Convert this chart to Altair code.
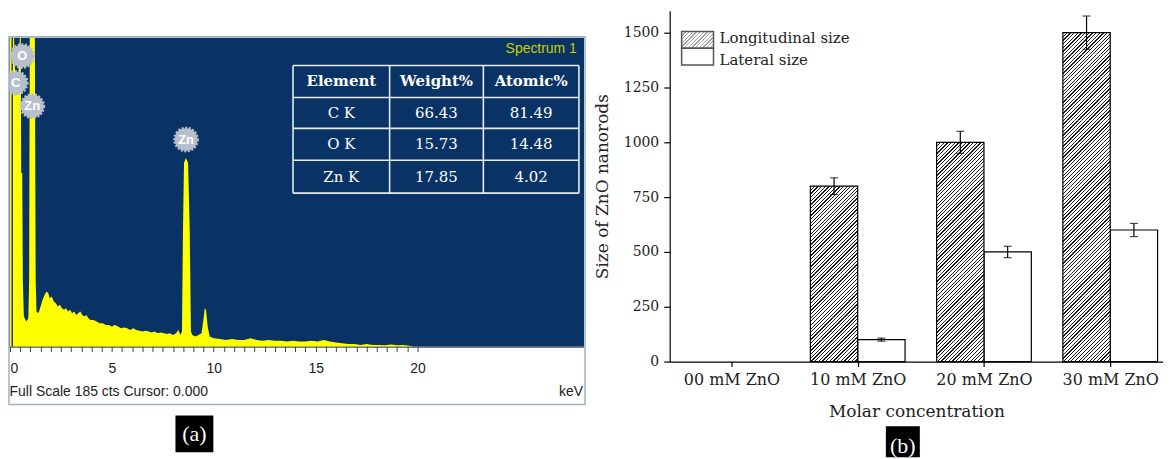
import json
import altair as alt
import pandas as pd

# ---------------- data: panel (a) EDS spectrum ----------------
SPEC_KEV = [0.00, 0.20, 0.26, 0.34, 0.42, 0.48, 0.53, 0.55, 0.60, 0.63, 0.68, 0.80, 0.90, 0.94, 0.97,
            1.22, 1.26, 1.30, 1.40, 1.50, 1.60, 1.70, 1.80, 1.88, 1.95, 2.05, 2.15, 2.25, 2.35, 2.45,
            2.55, 2.65, 2.75, 2.85, 2.95, 3.05, 3.15, 3.25, 3.35, 3.45, 3.55, 3.65, 3.75, 3.85, 3.95,
            4.10, 4.25, 4.40, 4.55, 4.70, 4.85, 5.00, 5.15, 5.30, 5.45, 5.60, 5.75, 5.90, 6.05, 6.20,
            6.35, 6.50, 6.65, 6.80, 6.95, 7.10, 7.25, 7.40, 7.55, 7.70, 7.85, 8.00, 8.15, 8.26, 8.36,
            8.44, 8.49, 8.54, 8.63, 8.74, 8.82, 8.88, 8.95, 9.10, 9.25, 9.40, 9.48, 9.56, 9.62, 9.70,
            9.80, 10.0, 10.3, 10.6, 10.9, 11.2, 11.5, 11.8, 12.1, 12.4, 12.7, 13.0, 13.3, 13.6, 13.9,
            14.2, 14.5, 14.8, 15.1, 15.4, 15.7, 16.0, 16.3, 16.6, 16.9, 17.2, 17.5, 17.8, 18.1, 18.4,
            18.7, 19.0, 19.3, 19.6, 19.8]
SPEC_CTS = [185, 185, 160, 150, 165, 185, 185, 104, 104, 40, 18, 15, 17, 40, 185,
            185, 40, 21, 20, 24, 28, 31, 33, 32, 29, 30, 27, 26, 24, 25,
            23, 22, 23, 21, 22, 20, 21, 19, 20, 21, 19, 18, 19, 17, 16,
            16, 15, 14, 14, 13, 13, 12, 13, 12, 11, 11.5, 11, 10, 11, 10,
            9.5, 9, 9.5, 9, 8.5, 9, 8, 8.5, 8, 7.5, 8, 7, 8, 10, 7,
            9, 70, 110, 113, 110, 70, 9, 7, 6, 7, 8, 15, 23, 22, 12,
            6, 5, 4.5, 4, 4.5, 4, 4, 5, 4, 3.5, 4, 3.5, 3.5, 3, 3.5,
            3, 3, 3.5, 3, 4, 3, 2.5, 2, 1.5, 1.5, 1, 1.5, 1, 1, 0.8,
            1.2, 0.8, 1, 0.5, 0]
FULL_SCALE = 185
CURSOR_KEV = 0.11
BADGE_LABELS = ["C", "O", "Zn", "Zn"]
BADGE_KEV = [0.28, 0.60, 1.09, 8.64]
BADGE_CTS = [158, 174, 144, 124]
TABLE_HEADER = ["Element", "Weight%", "Atomic%"]
TABLE_ELEMENT = ["C K", "O K", "Zn K"]
TABLE_WEIGHT = ["66.43", "15.73", "17.85"]
TABLE_ATOMIC = ["81.49", "14.48", "4.02"]

# ---------------- data: panel (b) nanorod sizes ----------------
CONC = ["00 mM ZnO", "10 mM ZnO", "20 mM ZnO", "30 mM ZnO"]
LONG = [0, 800, 1000, 1500]
LONG_ERR = [0, 38, 50, 76]
LAT = [0, 100, 500, 600]
LAT_ERR = [0, 7, 26, 30]
SERIES = ["Longitudinal size", "Lateral size"]
Y_TICKS = [0, 250, 500, 750, 1000, 1250, 1500]

# ---------------- layout / style ----------------
WA, HA = 577, 337
WB, HB = 495, 352
BLUE = "#0a3365"
YELLOW = "#ffff00"
SERIF = "DejaVu Serif"
SANS = "Liberation Sans"

XA = alt.Scale(domain=[-0.049, 28.17], nice=False, zero=False)
YA = alt.Scale(domain=[0, 201.11], nice=False, zero=False)
XB_DOM = [-0.489, 3.418]
XB = alt.Scale(domain=XB_DOM, nice=False, zero=False)
YB = alt.Scale(domain=[0, 1600], nice=False, zero=False)
HALF = 0.375      # bar width in category units
SEG = 100         # hatch tile height in data units

AX_A = alt.Axis(values=[i * 0.5 for i in range(41)],
                labelExpr="datum.value % 5 === 0 ? format(datum.value, 'd') : ''",
                labelAlign={"condition": {"test": "datum.value === 0", "value": "left"}, "value": "center"},
                title=None, grid=False, domain=True, domainColor="#222", domainWidth=1,
                ticks=True, tickColor="#444", tickSize=5, tickWidth=1,
                labelFont=SANS, labelFontSize=14, labelColor="#222", labelPadding=10,
                labelOverlap=False, labelFlush=False)
AX_BX = alt.Axis(values=[0, 1, 2, 3], labelExpr=json.dumps(CONC) + "[datum.value]",
                 title="Molar concentration", grid=False, domainColor="black", domainWidth=1.2,
                 tickColor="black", tickSize=5, tickWidth=1.2, labelFont=SERIF, labelFontSize=16,
                 labelColor="#222", labelPadding=5, labelOverlap=False,
                 titleFont=SERIF, titleFontSize=17, titleFontWeight="normal", titleColor="#222",
                 titlePadding=16)
AX_BY = alt.Axis(values=Y_TICKS, format="d", title="Size of ZnO nanorods", grid=False, domainColor="black",
                 domainWidth=1.2, tickColor="black", tickSize=6, tickWidth=1.2, labelFont=SERIF,
                 labelFontSize=14, labelColor="#222", labelPadding=5,
                 titleFont=SERIF, titleFontSize=17, titleFontWeight="normal", titleColor="#222",
                 titlePadding=12)


def xa(f):
    return alt.X(f, type="quantitative", scale=XA, axis=AX_A)


def ya(f):
    return alt.Y(f, type="quantitative", scale=YA, axis=None)


def xb(f):
    return alt.X(f, type="quantitative", scale=XB, axis=AX_BX)


def yb(f):
    return alt.Y(f, type="quantitative", scale=YB, axis=AX_BY)


def hatch(w, h, period, dark, ink="#1a1a1a", paper="white"):
    span = w + h
    a = span / (w * w + h * h)
    stops = []
    k = 0
    while k * period < span:
        s = k * period / span
        e = min((k * period + dark) / span, 1.0)
        stops += [alt.GradientStop(offset=s, color=paper), alt.GradientStop(offset=s, color=ink),
                  alt.GradientStop(offset=e, color=ink), alt.GradientStop(offset=e, color=paper)]
        k += 1
    stops.append(alt.GradientStop(offset=1, color=paper))
    return alt.LinearGradient(gradient="linear", stops=stops, x1=0, y1=0, x2=a * w, y2=a * h)


# ================= panel (a) =================
blue = alt.Chart(pd.DataFrame({"x0": [-0.049], "x1": [28.17], "y0": [0], "y1": [FULL_SCALE]})).mark_rect(
    color=BLUE).encode(x=xa("x0"), x2="x1", y=ya("y0"), y2="y1")

spectrum = alt.Chart(pd.DataFrame({"kev": SPEC_KEV, "cts": SPEC_CTS})).mark_area(
    color=YELLOW, opacity=1, interpolate="linear").encode(x=xa("kev"), y=ya("cts"))

cursor = alt.Chart(pd.DataFrame({"kev": [CURSOR_KEV], "y0": [0], "y1": [FULL_SCALE]})).mark_rule(
    color="#33331a", strokeWidth=1.5).encode(x=xa("kev"), y=ya("y0"), y2="y1")

badge_df = pd.DataFrame({"kev": BADGE_KEV, "cts": BADGE_CTS, "lab": BADGE_LABELS})
badges = alt.Chart(badge_df).mark_point(shape="circle", filled=True, size=520, fill="#b7bfcc",
                                        stroke="#b7bfcc", strokeWidth=3, strokeDash=[2, 1.5],
                                        opacity=1, clip=True).encode(x=xa("kev"), y=ya("cts"))
badge_txt = alt.Chart(badge_df).mark_text(color="white", font=SANS, fontSize=13, fontWeight="bold",
                                          clip=True).encode(x=xa("kev"), y=ya("cts"), text="lab")

spectrum_title = alt.Chart(pd.DataFrame({"kev": [27.82], "cts": [178.4], "t": ["Spectrum 1"]})).mark_text(
    align="right", baseline="middle", color="#c8d000", font=SANS, fontSize=14).encode(
    x=xa("kev"), y=ya("cts"), text="t")

COL_EDGES = [13.89, 18.63, 23.23, 27.92]
ROW_EDGES = [168.3, 149.2, 130.7, 111.6, 91.9]
hlines = alt.Chart(pd.DataFrame({"y": ROW_EDGES, "x0": COL_EDGES[0], "x1": COL_EDGES[-1]})).mark_rule(
    color="#e6eaf1", strokeWidth=1.6).encode(x=xa("x0"), x2="x1", y=ya("y"))
vlines = alt.Chart(pd.DataFrame({"x": COL_EDGES, "y0": ROW_EDGES[-1], "y1": ROW_EDGES[0]})).mark_rule(
    color="#e6eaf1", strokeWidth=1.6).encode(x=xa("x"), y=ya("y0"), y2="y1")

col_mid = [(COL_EDGES[i] + COL_EDGES[i + 1]) / 2 for i in range(3)]
row_mid = [(ROW_EDGES[i] + ROW_EDGES[i + 1]) / 2 for i in range(4)]
head_df = pd.DataFrame({"x": col_mid, "y": row_mid[0], "t": TABLE_HEADER})
body_rows = []
for r in range(3):
    for c, val in enumerate([TABLE_ELEMENT[r], TABLE_WEIGHT[r], TABLE_ATOMIC[r]]):
        body_rows.append({"x": col_mid[c], "y": row_mid[r + 1], "t": val})
body_df = pd.DataFrame(body_rows)
head_txt = alt.Chart(head_df).mark_text(color="white", font=SERIF, fontSize=15, fontWeight="bold",
                                        baseline="middle").encode(x=xa("x"), y=ya("y"), text="t")
body_txt = alt.Chart(body_df).mark_text(color="white", font=SERIF, fontSize=15,
                                        baseline="middle").encode(x=xa("x"), y=ya("y"), text="t")

border = alt.Chart(pd.DataFrame({"x0": [-0.049], "x1": [28.22], "y0": [-34.6], "y1": [185.6]})).mark_rect(
    fillOpacity=0, stroke="#9fb0c4", strokeWidth=1.5).encode(x=xa("x0"), x2="x1", y=ya("y0"), y2="y1")

foot_l = alt.Chart(pd.DataFrame({"x": [-0.02], "y": [-26.9],
                                 "t": ["Full Scale %d cts Cursor: 0.000" % FULL_SCALE]})).mark_text(
    align="left", baseline="middle", font=SANS, fontSize=14, color="#222").encode(x=xa("x"), y=ya("y"), text="t")
foot_r = alt.Chart(pd.DataFrame({"x": [28.12], "y": [-26.9], "t": ["keV"]})).mark_text(
    align="right", baseline="middle", font=SANS, fontSize=14, color="#222").encode(x=xa("x"), y=ya("y"), text="t")

tag_a_box = alt.Chart(pd.DataFrame({"x0": [8.12], "x1": [9.98], "y0": [-63.3], "y1": [-41.2]})).mark_rect(
    color="black").encode(x=xa("x0"), x2="x1", y=ya("y0"), y2="y1")
tag_a_txt = alt.Chart(pd.DataFrame({"x": [9.05], "y": [-52.2], "t": ["(a)"]})).mark_text(
    color="white", font="Liberation Serif", fontSize=22, baseline="middle").encode(
    x=xa("x"), y=ya("y"), text="t")

panel_a = alt.layer(blue, spectrum, cursor, badges, badge_txt, spectrum_title, hlines, vlines,
                    head_txt, body_txt, border, foot_l, foot_r, tag_a_box, tag_a_txt).properties(
    width=WA, height=HA)

# ================= panel (b) =================
df_b = pd.DataFrame({"idx": list(range(4)), "conc": CONC, "long": LONG, "long_err": LONG_ERR,
                     "lat": LAT, "lat_err": LAT_ERR})
df_b["base"] = 0
df_b["lx0"] = df_b["idx"] - HALF
df_b["lx1"] = df_b["idx"]
df_b["rx0"] = df_b["idx"]
df_b["rx1"] = df_b["idx"] + HALF
df_b["lc"] = df_b["idx"] - HALF / 2
df_b["rc"] = df_b["idx"] + HALF / 2
df_b["l_lo"] = df_b["long"] - df_b["long_err"]
df_b["l_hi"] = df_b["long"] + df_b["long_err"]
df_b["r_lo"] = df_b["lat"] - df_b["lat_err"]
df_b["r_hi"] = df_b["lat"] + df_b["lat_err"]

px_per_x = WB / (XB_DOM[1] - XB_DOM[0])
px_per_y = HB / 1600.0
bar_w = HALF * px_per_x
seg_h = SEG * px_per_y

# hatch tiles: each longitudinal bar split into equal tiles so the stripe pattern stays fine
tiles = []
for _, r in df_b[df_b["long"] > 0].iterrows():
    lo = 0
    while lo < r["long"]:
        hi = min(lo + SEG, r["long"])
        tiles.append({"x0": r["lx0"], "x1": r["lx1"], "y0": lo, "y1": hi})
        lo = hi
tiles_df = pd.DataFrame(tiles)
hatch_tiles = alt.Chart(tiles_df).mark_rect(fill=hatch(bar_w, seg_h, period=seg_h / 6, dark=1.25),
                                            strokeWidth=0).encode(
    x=xb("x0"), x2="x1", y=yb("y0"), y2="y1")
long_outline = alt.Chart(df_b[df_b["long"] > 0]).mark_rect(fillOpacity=0, stroke="black", strokeWidth=1.2).encode(
    x=xb("lx0"), x2="lx1", y=yb("base"), y2="long")

lat_bars = alt.Chart(df_b[df_b["lat"] > 0]).mark_rect(fill="white", stroke="black", strokeWidth=1.2).encode(
    x=xb("rx0"), x2="rx1", y=yb("base"), y2="lat")

lerr = df_b[df_b["long"] > 0]
rerr = df_b[df_b["lat"] > 0]
err_rules = [
    alt.Chart(lerr).mark_rule(color="black", strokeWidth=1.2).encode(x=xb("lc"), y=yb("l_lo"), y2="l_hi"),
    alt.Chart(rerr).mark_rule(color="black", strokeWidth=1.2).encode(x=xb("rc"), y=yb("r_lo"), y2="r_hi"),
]
err_caps = []
for d, c, lo, hi in [(lerr, "lc", "l_lo", "l_hi"), (rerr, "rc", "r_lo", "r_hi")]:
    for f in (lo, hi):
        err_caps.append(alt.Chart(d).mark_tick(orient="horizontal", size=8, thickness=1.2, color="black").encode(
            x=xb(c), y=yb(f)))

# legend (drawn in data space)
LEG_X = [-0.3946, -0.1421]
LEG_Y = [1505.9, 1428.6, 1353.2]
leg_w = (LEG_X[1] - LEG_X[0]) * px_per_x
leg_h = (LEG_Y[0] - LEG_Y[1]) * px_per_y
leg_top = alt.Chart(pd.DataFrame({"x0": [LEG_X[0]], "x1": [LEG_X[1]], "y0": [LEG_Y[1]], "y1": [LEG_Y[0]]})).mark_rect(
    fill=hatch(leg_w, leg_h, period=3.7, dark=1.3, ink="#a0a0a0"), stroke="#555", strokeWidth=1.5).encode(
    x=xb("x0"), x2="x1", y=yb("y0"), y2="y1")
leg_bot = alt.Chart(pd.DataFrame({"x0": [LEG_X[0]], "x1": [LEG_X[1]], "y0": [LEG_Y[2]], "y1": [LEG_Y[1]]})).mark_rect(
    fill="white", stroke="#555", strokeWidth=1.5).encode(x=xb("x0"), x2="x1", y=yb("y0"), y2="y1")
leg_txt = alt.Chart(pd.DataFrame({"x": [-0.0947, -0.0947], "y": [1477.3, 1377.3], "t": SERIES})).mark_text(
    align="left", baseline="middle", font=SERIF, fontSize=15, color="#222").encode(
    x=xb("x"), y=yb("y"), text="t")

tag_b_box = alt.Chart(pd.DataFrame({"x0": [1.223], "x1": [1.492], "y0": [-436], "y1": [-295.5]})).mark_rect(
    color="black").encode(x=xb("x0"), x2="x1", y=yb("y0"), y2="y1")
tag_b_txt = alt.Chart(pd.DataFrame({"x": [1.3575], "y": [-386], "t": ["(b)"]})).mark_text(
    color="white", font="Liberation Serif", fontSize=22, baseline="middle").encode(
    x=xb("x"), y=yb("y"), text="t")

panel_b = alt.layer(lat_bars, hatch_tiles, long_outline, *err_rules, *err_caps, leg_top, leg_bot, leg_txt,
                    tag_b_box, tag_b_txt).properties(width=WB, height=HB)

chart = alt.hconcat(panel_a, panel_b, spacing=86, bounds="flush").properties(
    padding={"left": 0, "top": 2, "right": 0, "bottom": 0}, background="white").configure_view(stroke=None)

chart.save("out.html", embed_options={"renderer": "svg", "actions": False})
